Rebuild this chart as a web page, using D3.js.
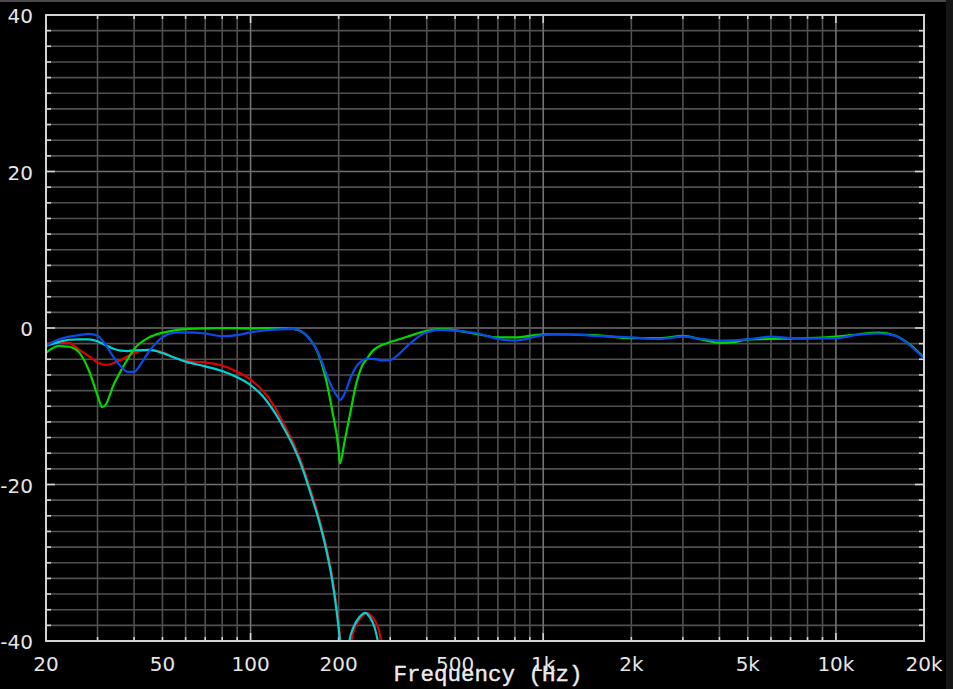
<!DOCTYPE html>
<html>
<head>
<meta charset="utf-8">
<script src="https://cdn.jsdelivr.net/npm/d3@7"></script>
<style>
html,body{margin:0;padding:0;background:#000;}
svg{display:block;}
</style>
</head>
<body>
<svg id="chart" width="953" height="689"></svg>
<script>
// ---- data ----
const redFreq = [20,22,24,26,28,30,32,34,36,38,40,45,50,55,60,70,80,90,100,110,120,130,140,150,160,170,180,190,197,203,207,212,217,221,228,240,250,260,272,279,285,300];
const redDb   = [-2.1,-1.7,-1.9,-2.8,-3.6,-4.4,-4.7,-4.5,-4.1,-3.6,-3.2,-2.8,-3.1,-3.8,-4.2,-4.4,-4.8,-5.6,-6.6,-8.0,-9.9,-12.3,-14.7,-17.4,-20.6,-23.8,-27.4,-31.7,-35.8,-40,-44,-47,-44,-40,-38.2,-36.9,-36.4,-36.9,-38.2,-40,-44,-50];

const cyanFreq = [20,22,24,26,28,30,32,34,36,38,40,45,50,55,60,70,80,90,100,110,120,130,140,150,160,170,180,190,197,202,206,210,214,217.6,225,236,246.6,254.8,265,272,280,300];
const cyanDb   = [-2.3,-1.8,-1.5,-1.45,-1.45,-1.7,-2.2,-2.65,-2.9,-2.95,-2.85,-2.8,-3.2,-3.8,-4.3,-4.9,-5.5,-6.3,-7.3,-8.7,-10.6,-12.8,-15.1,-17.8,-21.0,-24.2,-27.8,-32.2,-36.3,-40,-44,-47,-44,-40,-38.2,-36.9,-36.4,-36.9,-38.2,-40,-44,-50];

const greenFreq = [20,22,24,26,28,30,31.1,32,34,36,38,40,45,50,55,60,70,80,100,120,140,150,160,170,180,190,200,202,210,220,230,240,250,260,280,300,350,400,450,500,600,700,800,1000,1500,2000,2500,3000,3500,4000,4500,5000,6000,7000,8000,10000,12000,14000,16000,18000,20000];
const greenDb   = [-3.2,-2.3,-2.4,-3.15,-5.4,-8.6,-10.1,-9.8,-7.3,-5.5,-4.0,-2.7,-1.2,-0.6,-0.3,-0.15,-0.05,0,-0.05,0,-0.1,-0.5,-1.5,-3.2,-6.2,-10.5,-15.6,-17.3,-14.3,-10.5,-7.0,-4.9,-3.9,-3.0,-2.2,-1.8,-1.0,-0.35,-0.15,-0.3,-0.8,-1.2,-1.2,-0.8,-0.9,-1.3,-1.3,-1.0,-1.5,-1.9,-1.8,-1.45,-1.4,-1.35,-1.3,-1.1,-0.8,-0.6,-1.0,-2.2,-3.8];

const blueFreq = [20,22,24,26,28,30,32,34,36,38,40,42,45,50,55,60,70,80,90,100,120,140,150,160,170,180,190,200,202,210,220,230,240,250,270,280,300,320,350,400,450,500,600,700,800,900,1000,1200,1500,2000,2500,3000,3500,4000,5000,6000,7000,8000,10000,12000,14000,16000,18000,20000];
const blueDb   = [-2.3,-1.5,-1.1,-0.9,-0.75,-1.0,-2.2,-3.7,-4.9,-5.6,-5.6,-4.7,-3.0,-1.2,-0.6,-0.55,-0.7,-1.05,-0.9,-0.55,-0.2,-0.1,-0.5,-1.5,-3.1,-5.5,-7.6,-9.0,-9.2,-8.3,-6.3,-4.9,-4.2,-3.9,-4.0,-4.15,-4.1,-3.4,-2.0,-0.55,-0.25,-0.35,-0.7,-1.4,-1.6,-1.3,-0.9,-0.8,-1.0,-1.2,-1.4,-1.1,-1.4,-1.6,-1.45,-1.1,-1.3,-1.35,-1.3,-0.85,-0.7,-1.0,-2.3,-3.9];

const xTickValues = [20,50,100,200,500,1000,2000,5000,10000,20000];
const xTickLabels = ["20","50","100","200","500","1k","2k","5k","10k","20k"];
const xMinorGrid  = [30,40,50,60,70,80,90,200,300,400,500,600,700,800,900,2000,3000,4000,5000,6000,7000,8000,9000];
const xMajorGrid  = [100,1000,10000];
const yTickValues = [40,20,0,-20,-40];
const yTickLabels = ["40","20","0","-20","-40"];
const xAxisTitle  = "Frequency (Hz)";

// ---- chart ----
const svg = d3.select("#chart");
const L = 46, R = 924, T = 15, B = 641;
const x = d3.scaleLog().domain([20,20000]).range([L,R]);
const y = d3.scaleLinear().domain([-40,40]).range([B,T]);

svg.append("rect").attr("x",0).attr("y",0).attr("width",953).attr("height",689).attr("fill","#000");
svg.append("rect").attr("x",0).attr("y",0).attr("width",946).attr("height",2).attr("fill","#4a4a4a");
svg.append("rect").attr("x",946).attr("y",0).attr("width",7).attr("height",689).attr("fill","#161616");

const grid = svg.append("g");
const yGrid = d3.range(-38,39,2);
grid.selectAll("line.h").data(yGrid).join("line")
  .attr("x1",L).attr("x2",R)
  .attr("y1",d=>y(d)).attr("y2",d=>y(d))
  .attr("stroke",d=> (d%20===0) ? "#727272" : "#505050")
  .attr("stroke-width",1.6);
grid.selectAll("line.v").data(xMinorGrid.concat(xMajorGrid)).join("line")
  .attr("y1",T).attr("y2",B)
  .attr("x1",d=>x(d)).attr("x2",d=>x(d))
  .attr("stroke",d=> xMajorGrid.includes(d) ? "#727272" : "#505050")
  .attr("stroke-width",1.6);

// ticks on frame
const tickCol = "#d4d4d4";
const tk = svg.append("g").attr("stroke",tickCol).attr("stroke-width",1.6);
const allX = xMinorGrid.concat(xMajorGrid);
allX.forEach(f=>{
  const len = xMajorGrid.includes(f) ? 8 : 4;
  tk.append("line").attr("x1",x(f)).attr("x2",x(f)).attr("y1",T).attr("y2",T+len);
  tk.append("line").attr("x1",x(f)).attr("x2",x(f)).attr("y1",B).attr("y2",B-len);
});
yGrid.forEach(v=>{
  const len = (v%20===0) ? 9 : 5;
  tk.append("line").attr("x1",L).attr("x2",L+len).attr("y1",y(v)).attr("y2",y(v));
  tk.append("line").attr("x1",R).attr("x2",R-len).attr("y1",y(v)).attr("y2",y(v));
});

// clip
svg.append("clipPath").attr("id","clip").append("rect")
  .attr("x",L).attr("y",T).attr("width",R-L).attr("height",B-T);

const line = d3.line().x(d=>x(d[0])).y(d=>y(d[1])).curve(d3.curveMonotoneX);
const series = [
  {f:redFreq, v:redDb, c:"#e00000"},
  {f:cyanFreq, v:cyanDb, c:"#00d2d2"},
  {f:greenFreq, v:greenDb, c:"#00d800"},
  {f:blueFreq, v:blueDb, c:"#0a4ce8"}
];
const lg = svg.append("g").attr("clip-path","url(#clip)");
series.forEach(s=>{
  lg.append("path").attr("d", line(s.f.map((f,i)=>[f,s.v[i]])))
    .attr("fill","none").attr("stroke",s.c).attr("stroke-width",2.2)
    .attr("stroke-linejoin","round");
});

// frame
svg.append("rect").attr("x",L).attr("y",T).attr("width",R-L).attr("height",B-T)
  .attr("fill","none").attr("stroke",tickCol).attr("stroke-width",2);

// labels
svg.append("g").selectAll("text").data(yTickValues).join("text")
  .attr("x",33).attr("y",d=>y(d)+1)
  .attr("text-anchor","end").attr("dominant-baseline","central")
  .attr("font-family","DejaVu Sans").attr("font-size",20).attr("fill","#e6e6e6")
  .text((d,i)=>yTickLabels[i]);
svg.append("g").selectAll("text").data(xTickValues).join("text")
  .attr("x",d=>x(d)).attr("y",671)
  .attr("text-anchor","middle")
  .attr("font-family","DejaVu Sans").attr("font-size",20).attr("fill","#e6e6e6")
  .text((d,i)=>xTickLabels[i]);
svg.append("text").attr("x",488).attr("y",681).attr("text-anchor","middle")
  .attr("font-family","Liberation Mono").attr("font-size",22.5).attr("fill","#ececec")
  .attr("stroke","#ececec").attr("stroke-width",0.4)
  .text(xAxisTitle);
</script>
</body>
</html>
